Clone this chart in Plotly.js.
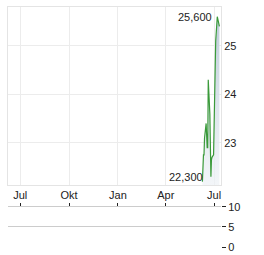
<!DOCTYPE html>
<html><head><meta charset="utf-8">
<script src="https://cdn.plot.ly/plotly-3.0.1.min.js"></script>
<style>html,body{margin:0;padding:0;background:#fff}#c{width:264px;height:255px}</style>
</head><body><div id="c"></div>
<script>
const dates = ['2025-06-09','2025-06-10','2025-06-11','2025-06-12','2025-06-13','2025-06-16','2025-06-17','2025-06-18','2025-06-19','2025-06-20','2025-06-23','2025-06-24','2025-06-25','2025-06-26','2025-06-27','2025-06-30','2025-07-01','2025-07-02','2025-07-03','2025-07-04','2025-07-07','2025-07-08','2025-07-09','2025-07-10','2025-07-11'];
const prices = [22.2,22.75,22.75,22.75,23.1,23.4,22.9,22.9,22.9,24.3,23.6,22.3,22.3,22.65,22.7,22.75,23.2,23.9,24.6,25.1,25.6,25.55,25.5,25.45,25.4];
const volumes = dates.map(()=>0);
const tickDates = ['2024-07-01','2024-10-01','2025-01-01','2025-04-01','2025-07-01'];
const tickLabels = ['Jul','Okt','Jan','Apr','Jul'];
const maxLabel = '25,600', minLabel = '22,300';

const font = {family:'Liberation Sans, Arial, sans-serif', size:11, color:'#222'};
const traces = [
 {x:dates, y:prices, type:'scatter', mode:'lines', line:{color:'#3a9a3a', width:1.2},
  fill:'tozeroy', fillgradient:{type:'vertical', start:22.1, stop:25.8,
   colorscale:[[0,'rgba(238,242,246,0.7)'],[1,'rgba(185,200,215,1)']]},
  xaxis:'x', yaxis:'y', hoverinfo:'skip'},
 {x:dates, y:volumes, type:'bar', marker:{color:'#888'}, xaxis:'x2', yaxis:'y2', hoverinfo:'skip'}
];
const imax = prices.indexOf(Math.max(...prices));
const layout = {
 width:264, height:255, margin:{l:8, r:43, t:7, b:8},
 paper_bgcolor:'#fff', plot_bgcolor:'#fff', showlegend:false, font:font,
 xaxis:{type:'date', range:['2024-06-08','2025-07-14'], domain:[0,1], anchor:'y',
  tickvals:tickDates, ticktext:tickLabels, ticks:'', showgrid:true, gridcolor:'#ececec',
  showline:true, mirror:true, linecolor:'#e4e4e4', zeroline:false, tickfont:font},
 yaxis:{range:[22.13,25.8], domain:[0.2583,1], anchor:'x', side:'right', tickvals:[23,24,25],
  ticks:'', showgrid:true, gridcolor:'#ececec', showline:true, mirror:true, linecolor:'#e4e4e4',
  zeroline:false, tickfont:font},
 xaxis2:{type:'date', matches:'x', anchor:'y2', domain:[0,1], side:'top', tickvals:tickDates,
  showticklabels:false, ticks:'outside', ticklen:3, tickcolor:'#222', showgrid:false,
  showline:true, linecolor:'#cccccc', zeroline:false},
 yaxis2:{range:[0,10], domain:[0,0.1667], anchor:'x2', side:'right', tickvals:[0,5,10],
  ticks:'outside', ticklen:4, tickcolor:'#222', showgrid:true, gridcolor:'#cccccc',
  showline:false, zeroline:false, tickfont:font},
 annotations:[
  {x:dates[imax], y:prices[imax], xref:'x', yref:'y', text:maxLabel, showarrow:false, xanchor:'right', xshift:-3, font:font},
  {x:dates[0], y:22.3, xref:'x', yref:'y', text:minLabel, showarrow:false, xanchor:'right', xshift:3, font:font}
 ]
};
Plotly.newPlot('c', traces, layout, {staticPlot:true, displayModeBar:false});
</script></body></html>
